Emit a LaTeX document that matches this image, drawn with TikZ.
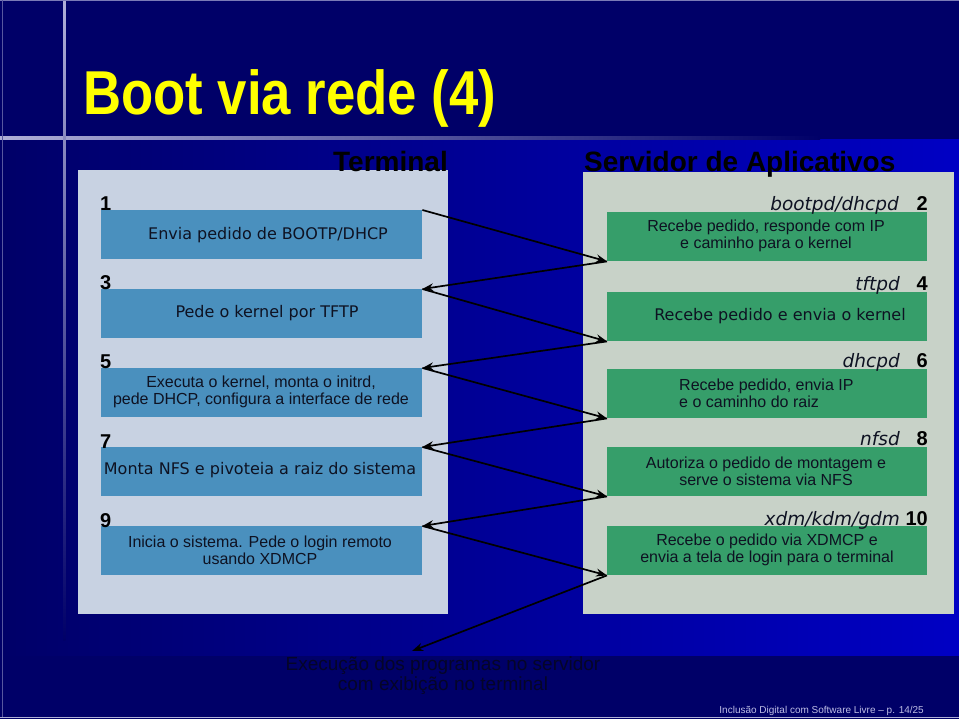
\documentclass[tikz,border=0pt]{standalone}
\usepackage{fontspec}
\setmainfont{Liberation Sans}
\newfontfamily\dejavu{DejaVu Sans}
\newfontfamily\condfont[FakeStretch=0.85]{Liberation Sans Bold}
\usetikzlibrary{arrows.meta}
\definecolor{navy}{RGB}{0,0,104}
\definecolor{brightblue}{RGB}{0,0,196}
\definecolor{termbg}{RGB}{200,210,226}
\definecolor{servbg}{RGB}{200,210,200}
\definecolor{tboxcol}{RGB}{74,144,190}
\definecolor{sboxcol}{RGB}{54,158,106}
\definecolor{txtcol}{RGB}{14,18,34}
\definecolor{rulecol}{RGB}{175,175,215}
\definecolor{titlecol}{RGB}{255,255,0}
\definecolor{footcol}{RGB}{190,190,230}
\definecolor{execcol}{RGB}{5,5,40}
\tikzset{
  tboxst/.style={fill=tboxcol, minimum width=321, minimum height=49, inner sep=0, anchor=north west},
  sboxst/.style={fill=sboxcol, minimum width=320, minimum height=49, inner sep=0, anchor=north west},
  dvtext/.style={text=txtcol, inner sep=0, font=\dejavu\fontsize{16}{17}\selectfont},
  lstext/.style={text=txtcol, inner sep=0, align=center, font=\fontsize{16}{17}\selectfont},
  lnum/.style={text=black, inner sep=0, anchor=base west, font=\bfseries\fontsize{20}{20}\selectfont},
  rnum/.style={text=black, inner sep=0, anchor=base east, font=\bfseries\fontsize{20}{20}\selectfont},
  rlab/.style={text=txtcol, inner sep=0, anchor=base east, font=\dejavu\itshape\fontsize{18.5}{18.5}\selectfont},
  heading/.style={text=black, inner sep=0, font=\bfseries\fontsize{28}{28}\selectfont},
  flow/.style={draw=black, line width=1.7, -{Stealth[length=11,width=8]}},
}
\begin{document}
\begin{tikzpicture}[x=1pt,y=-1pt]
\useasboundingbox (0,0) rectangle (959,719);
% background
\fill[navy] (0,0) rectangle (959,719);
\shade[left color=navy, right color=brightblue] (0,140) rectangle (959,655);
\shade[left color=rulecol, right color=navy] (0,137) rectangle (820,139.5);
\shade[top color=rulecol, bottom color=navy] (63,0) rectangle (65.5,640);
\draw[rulecol, line width=1.2] (0,717.5) -- (959,717.5);
\draw[rulecol!70!navy, line width=1] (0,0.5) -- (959,0.5);
\draw[rulecol!50!navy, line width=1] (2,0) -- (2,717);
% title
\node[anchor=base west, inner sep=0, text=titlecol, font=\condfont\fontsize{62}{62}\selectfont] (title) at (83,115) {Boot via rede (4)};
% panels
\fill[termbg] (78,170) rectangle (448,614);
\fill[servbg] (583,172) rectangle (954,614);
\node[heading, anchor=base east] (termhead) at (448,172) {Terminal};
\node[heading, anchor=base west] (servhead) at (584,172) {Servidor de Aplicativos};
% terminal boxes
\node[tboxst] (t1) at (101,210) {};
\node[tboxst] (t3) at (101,289) {};
\node[tboxst] (t5) at (101,368) {};
\node[tboxst] (t7) at (101,447) {};
\node[tboxst] (t9) at (101,526) {};
\node[lnum] (n1) at (100,211) {1};
\node[lnum] (n3) at (100,290) {3};
\node[lnum] (n5) at (100,369) {5};
\node[lnum] (n7) at (100,448) {7};
\node[lnum] (n9) at (100,527) {9};
\node[dvtext] (x1) at (268,235) {Envia pedido de BOOTP/DHCP};
\node[dvtext] (x3) at (267,313) {Pede o kernel por TFTP};
\node[lstext] (x5) at (261,392) {Executa o kernel, monta o initrd,\\pede DHCP, configura a interface de rede};
\node[dvtext] (x7) at (260,470) {Monta NFS e pivoteia a raiz do sistema};
\node[lstext] (x9) at (260,550) {Inicia o sistema. Pede o login remoto\\usando XDMCP};
% server boxes
\node[sboxst] (s2) at (607,212) {};
\node[sboxst] (s4) at (607,292) {};
\node[sboxst] (s6) at (607,369) {};
\node[sboxst] (s8) at (607,447) {};
\node[sboxst] (s10) at (607,526) {};
\node[rnum] (n2) at (928,211) {2};
\node[rnum] (n4) at (928,291) {4};
\node[rnum] (n6) at (928,368) {6};
\node[rnum] (n8) at (928,446) {8};
\node[rnum] (n10) at (928,525) {10};
\node[rlab] (l2) at (899,211) {bootpd/dhcpd};
\node[rlab] (l4) at (900,291) {tftpd};
\node[rlab] (l6) at (900,368) {dhcpd};
\node[rlab] (l8) at (900,446) {nfsd};
\node[rlab] (l10) at (900,525) {xdm/kdm/gdm};
\node[lstext] (y2) at (766,236) {Recebe pedido, responde com IP\\e caminho para o kernel};
\node[dvtext] (y4) at (780,316) {Recebe pedido e envia o kernel};
\node[lstext, anchor=west, align=left] (y6) at (679,393.5) {Recebe pedido, envia IP\\e o caminho do raiz};
\node[lstext] (y8) at (766,471.5) {Autoriza o pedido de montagem e\\serve o sistema via NFS};
\node[lstext] (y10) at (767,550) {Recebe o pedido via XDMCP e\\envia a tela de login para o terminal};
% bottom text
\node[inner sep=0, align=center, text=execcol, font=\fontsize{19}{20}\selectfont] (exec) at (443,676) {Execução dos programas no servidor\\com exibição no terminal};
\coordinate (execin) at (412,651);
\node[anchor=base east, inner sep=0, text=footcol, font=\fontsize{10}{10}\selectfont] (foot) at (924,713) {Inclusão Digital com Software Livre – p. 14/25};
% connectors
\draw[flow] (t1.north east) -- (s2.south west);
\draw[flow] (s2.south west) -- (t3.north east);
\draw[flow] (t3.north east) -- (s4.south west);
\draw[flow] (s4.south west) -- (t5.north east);
\draw[flow] (t5.north east) -- (s6.south west);
\draw[flow] (s6.south west) -- (t7.north east);
\draw[flow] (t7.north east) -- (s8.south west);
\draw[flow] (s8.south west) -- (t9.north east);
\draw[flow] (t9.north east) -- (s10.south west);
\draw[flow] (s10.south west) -- (execin);
\end{tikzpicture}
\end{document}
